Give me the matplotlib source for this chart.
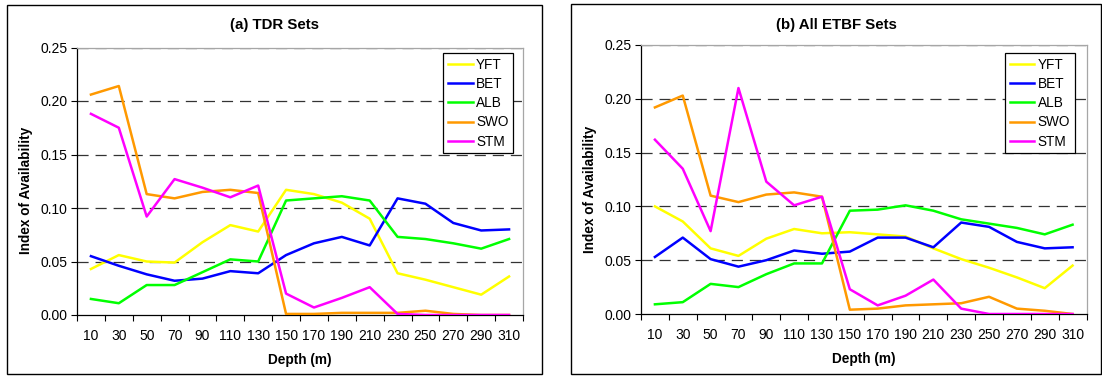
import matplotlib
matplotlib.use("Agg")
import matplotlib.pyplot as plt
from matplotlib.patches import Rectangle
import numpy as np

plt.rcParams['font.family'] = ['Liberation Sans', 'DejaVu Sans']
plt.rcParams['lines.scale_dashes'] = False

depths = [10, 30, 50, 70, 90, 110, 130, 150, 170, 190, 210, 230, 250, 270, 290, 310]
species = ["YFT", "BET", "ALB", "SWO", "STM"]
colors = ["#FFFF00", "#0000FF", "#00FF00", "#FF9900", "#FF00FF"]

# (a) TDR sets
tdr_yft = [0.043, 0.056, 0.050, 0.049, 0.068, 0.084, 0.078, 0.117, 0.113, 0.105, 0.090, 0.039, 0.033, 0.026, 0.019, 0.036]
tdr_bet = [0.055, 0.046, 0.038, 0.032, 0.034, 0.041, 0.039, 0.056, 0.067, 0.073, 0.065, 0.109, 0.104, 0.086, 0.079, 0.080]
tdr_alb = [0.015, 0.011, 0.028, 0.028, 0.040, 0.052, 0.050, 0.107, 0.109, 0.111, 0.107, 0.073, 0.071, 0.067, 0.062, 0.071]
tdr_swo = [0.206, 0.214, 0.113, 0.109, 0.115, 0.117, 0.114, 0.001, 0.001, 0.002, 0.002, 0.002, 0.004, 0.001, 0.000, 0.000]
tdr_stm = [0.188, 0.175, 0.092, 0.127, 0.119, 0.110, 0.121, 0.020, 0.007, 0.016, 0.026, 0.001, 0.000, 0.000, 0.000, 0.000]

# (b) All ETBF sets
etbf_yft = [0.100, 0.086, 0.061, 0.054, 0.070, 0.079, 0.075, 0.076, 0.074, 0.072, 0.061, 0.051, 0.043, 0.034, 0.024, 0.045]
etbf_bet = [0.053, 0.071, 0.051, 0.044, 0.050, 0.059, 0.056, 0.058, 0.071, 0.071, 0.062, 0.085, 0.081, 0.067, 0.061, 0.062]
etbf_alb = [0.009, 0.011, 0.028, 0.025, 0.037, 0.047, 0.047, 0.096, 0.097, 0.101, 0.096, 0.088, 0.084, 0.080, 0.074, 0.083]
etbf_swo = [0.192, 0.203, 0.110, 0.104, 0.111, 0.113, 0.109, 0.004, 0.005, 0.008, 0.009, 0.010, 0.016, 0.005, 0.003, 0.000]
etbf_stm = [0.162, 0.135, 0.077, 0.210, 0.123, 0.101, 0.109, 0.023, 0.008, 0.017, 0.032, 0.005, 0.000, 0.000, 0.000, 0.000]

panels = [
    ("(a) TDR Sets", [tdr_yft, tdr_bet, tdr_alb, tdr_swo, tdr_stm]),
    ("(b) All ETBF Sets", [etbf_yft, etbf_bet, etbf_alb, etbf_swo, etbf_stm]),
]

W, H = 1102, 376
fig = plt.figure(figsize=(W / 100, H / 100), dpi=100)

def fx(px):
    return px / W

def fy(py):
    return 1 - py / H

# pixel boxes: chart frame and plot area for each panel
frames = [(7, 5, 542, 374), (571, 4, 1101, 374)]
areas = [(77, 47.5, 523, 315), (641, 45, 1086.5, 314)]
legend_anchor = [(0.978, 0.979), (0.974, 0.970)]

for (title, series), (l, t, r, b), (fl, ft, fr, fb), anchor in zip(panels, areas, frames, legend_anchor):
    fig.patches.append(Rectangle((fx(fl), fy(fb)), fx(fr - fl), (fb - ft) / H,
                                 transform=fig.transFigure, fill=False,
                                 edgecolor="black", linewidth=1.0))
    ax = fig.add_axes([fx(l), fy(b), fx(r - l), (b - t) / H])
    x = np.arange(len(depths))
    for name, vals, c in zip(species, series, colors):
        ax.plot(x, vals, color=c, linewidth=1.8, label=name, zorder=3)

    ax.set_xlim(-0.5, len(depths) - 0.5)
    ax.set_ylim(0, 0.25)
    ax.set_yticks([0, 0.05, 0.10, 0.15, 0.20, 0.25])
    ax.set_yticklabels([f"{v:.2f}" for v in [0, 0.05, 0.10, 0.15, 0.20, 0.25]])
    ax.set_xticks(x)
    ax.set_xticklabels([str(d) for d in depths])
    ax.set_xticks(np.arange(-0.5, len(depths)), minor=True)
    ax.tick_params(axis="x", which="major", length=0, pad=10, labelsize=10)
    ax.tick_params(axis="x", which="minor", length=4, width=0.8, direction="out")
    ax.tick_params(axis="y", which="major", length=4, width=0.8, direction="out", labelsize=10, pad=3)

    for yv in [0.05, 0.10, 0.15, 0.20, 0.25]:
        ax.axhline(yv, color="#333333", linewidth=0.9, linestyle=(0, (8, 5)), zorder=1)

    ax.spines["left"].set_color("black")
    ax.spines["bottom"].set_color("black")
    ax.spines["right"].set_color("#a6a6a6")
    ax.spines["top"].set_color("#a6a6a6")
    for s in ax.spines.values():
        s.set_linewidth(0.9)

    ax.set_xlabel("Depth (m)", fontsize=9.8, fontweight="bold", labelpad=7)
    ax.set_ylabel("Index of Availability", fontsize=9.8, fontweight="bold")
    ax.yaxis.set_label_coords(-0.098, 0.465)

    fig.text(fx((fl + fr) / 2), fy(25.5), title, ha="center", va="center",
             fontsize=10.8, fontweight="bold")

    leg = ax.legend(loc="upper right", bbox_to_anchor=anchor, borderaxespad=0,
                    fontsize=9.8, frameon=True, fancybox=False, framealpha=1,
                    edgecolor="black", handlelength=1.8, handletextpad=0.25,
                    labelspacing=0.38, borderpad=0.35)
    leg.get_frame().set_linewidth(0.9)

fig.savefig("out.png", dpi=100)
